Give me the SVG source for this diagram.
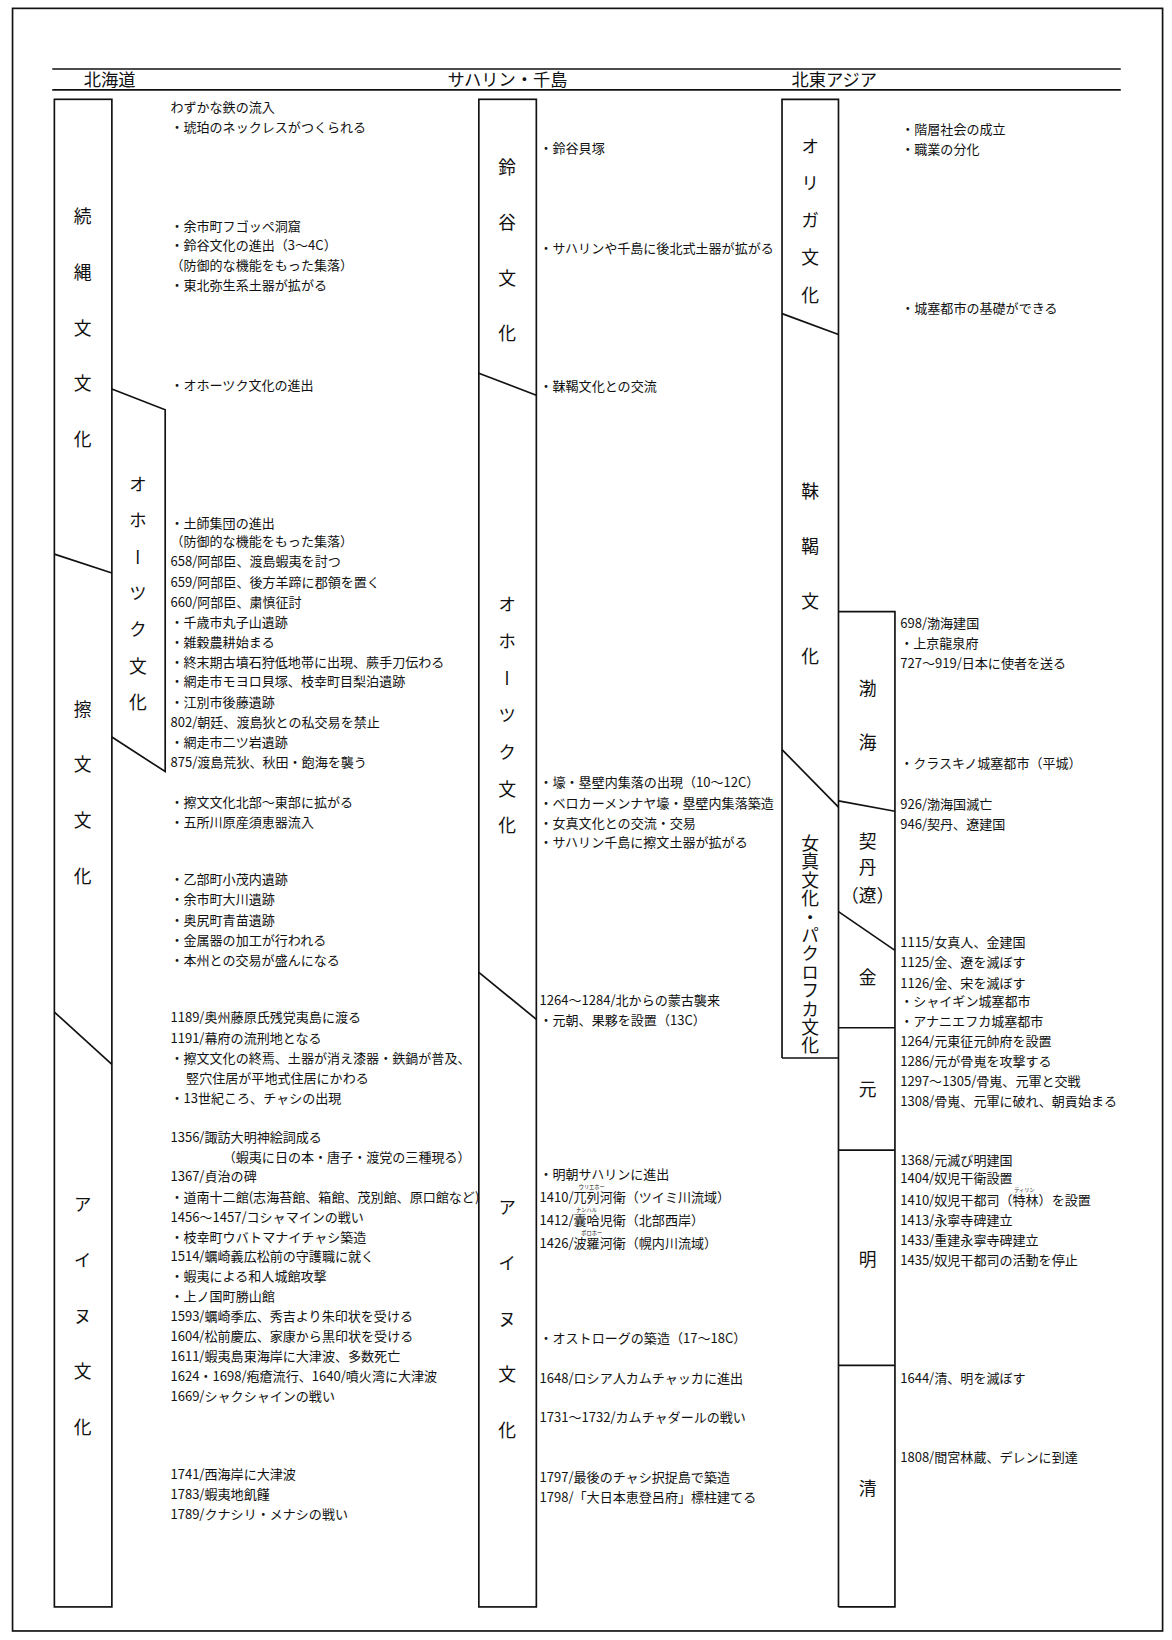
<svg xmlns="http://www.w3.org/2000/svg" width="1172" height="1640" viewBox="0 0 1172 1640">
<style>
.t{font-family:"Noto Sans CJK JP","Noto Sans CJK SC",sans-serif;font-size:12.5px;fill:#111}
.v{font-family:"Noto Sans CJK JP","Noto Sans CJK SC",sans-serif;font-size:17px;fill:#111;writing-mode:vertical-rl}
.c{font-family:"Noto Sans CJK JP","Noto Sans CJK SC",sans-serif;font-size:17px;fill:#111;text-anchor:middle}
.h{font-family:"Noto Sans CJK JP","Noto Sans CJK SC",sans-serif;font-size:16.5px;fill:#111}
.r{font-family:"Noto Sans CJK JP","Noto Sans CJK SC",sans-serif;font-size:5px;fill:#111}
.ln{stroke:#111;stroke-width:1.6;fill:none}
</style>
<rect x="0" y="0" width="1172" height="1640" fill="#fff"/>
<g transform="scale(1.04549)">
<g id="connectors">
<rect class="ln" x="12" y="8" width="1100" height="1552"/>
<line class="ln" x1="50" y1="66" x2="1072" y2="66"/>
<line class="ln" x1="50" y1="86" x2="1072" y2="86"/>
<!-- column 1 -->
<rect class="ln" x="52" y="95" width="55" height="1442"/>
<line class="ln" x1="52" y1="530" x2="107" y2="548"/>
<line class="ln" x1="52" y1="968" x2="107" y2="1018"/>
<polyline class="ln" points="107,372 158,392 158,738 107,705"/>
<!-- column 2 -->
<rect class="ln" x="458" y="95" width="55" height="1442"/>
<line class="ln" x1="458" y1="357" x2="513" y2="378"/>
<line class="ln" x1="458" y1="930" x2="513" y2="975"/>
<!-- column 3 -->
<polyline class="ln" points="748,1012 748,95 802,95 802,1537"/>
<line class="ln" x1="748" y1="1012" x2="802" y2="1012"/>
<line class="ln" x1="748" y1="300" x2="802" y2="320"/>
<line class="ln" x1="748" y1="717" x2="802" y2="772"/>
<polyline class="ln" points="802,585 856,585 856,1537 802,1537"/>
<line class="ln" x1="802" y1="766" x2="856" y2="776"/>
<line class="ln" x1="802" y1="872" x2="856" y2="909"/>
<line class="ln" x1="802" y1="983" x2="856" y2="983"/>
<line class="ln" x1="802" y1="1100" x2="856" y2="1100"/>
<line class="ln" x1="802" y1="1306" x2="856" y2="1306"/>
</g>
<g id="header">
<text class="h" x="80" y="82">北海道</text>
<text class="h" x="428" y="82">サハリン・千島</text>
<text class="h" x="757" y="82">北東アジア</text>
</g>
<g id="band-zokujomon"><text class="v" x="79" y="198.5" style="letter-spacing:36.3px">続縄文文化</text></g>
<g id="band-okhotsk-hokkaido"><text class="v" x="132" y="454.5" style="letter-spacing:17.8px">オホーツク文化</text></g>
<g id="band-satsumon"><text class="v" x="79" y="669.5" style="letter-spacing:36.3px">擦文文化</text></g>
<g id="band-ainu-hokkaido"><text class="v" x="79" y="1143.5" style="letter-spacing:36.3px">アイヌ文化</text></g>
<g id="band-susuya"><text class="v" x="485" y="151.5" style="letter-spacing:36px">鈴谷文化</text></g>
<g id="band-okhotsk-sakhalin"><text class="v" x="485" y="569.5" style="letter-spacing:18.3px">オホーツク文化</text></g>
<g id="band-ainu-sakhalin"><text class="v" x="485" y="1146.5" style="letter-spacing:36.3px">アイヌ文化</text></g>
<g id="band-olga"><text class="v" x="775" y="131.5" style="letter-spacing:18.5px">オリガ文化</text></g>
<g id="band-mohe"><text class="v" x="775" y="461.5" style="letter-spacing:35.7px">靺鞨文化</text></g>
<g id="band-jurchen"><text class="v" x="775" y="798" style="letter-spacing:0.6px">女真文化・パクロフカ文化</text></g>
<g id="band-bohai"><text class="v" x="830" y="649.5" style="letter-spacing:35px">渤海</text></g>
<g id="band-khitan"><text class="v" x="830" y="796.5" style="letter-spacing:8px">契丹</text><text class="c" x="830" y="863">（遼）</text></g>
<g id="band-jin"><text class="c" x="830" y="941">金</text></g>
<g id="band-yuan"><text class="c" x="830" y="1048">元</text></g>
<g id="band-ming"><text class="c" x="830" y="1211">明</text></g>
<g id="band-qing"><text class="c" x="830" y="1430">清</text></g>

<g id="events-hokkaido">
<text class="t" x="163" y="107.6">わずかな鉄の流入</text>
<text class="t" x="163" y="126.6">・琥珀のネックレスがつくられる</text>
<text class="t" x="163" y="220.6">・余市町フゴッペ洞窟</text>
<text class="t" x="163" y="239.6">・鈴谷文化の進出（3〜4C）</text>
<text class="t" x="163" y="258.6">（防御的な機能をもった集落）</text>
<text class="t" x="163" y="277.6">・東北弥生系土器が拡がる</text>
<text class="t" x="163" y="372.6">・オホーツク文化の進出</text>
<text class="t" x="163" y="504.6">・土師集団の進出</text>
<text class="t" x="163" y="522.6">（防御的な機能をもった集落）</text>
<text class="t" x="163" y="541.6">658/阿部臣、渡島蝦夷を討つ</text>
<text class="t" x="163" y="561.6">659/阿部臣、後方羊蹄に郡領を置く</text>
<text class="t" x="163" y="580.6">660/阿部臣、粛慎征討</text>
<text class="t" x="163" y="599.6">・千歳市丸子山遺跡</text>
<text class="t" x="163" y="618.6">・雑穀農耕始まる</text>
<text class="t" x="163" y="637.6">・終末期古墳石狩低地帯に出現、蕨手刀伝わる</text>
<text class="t" x="163" y="656.6">・網走市モヨロ貝塚、枝幸町目梨泊遺跡</text>
<text class="t" x="163" y="676.6">・江別市後藤遺跡</text>
<text class="t" x="163" y="695.6">802/朝廷、渡島狄との私交易を禁止</text>
<text class="t" x="163" y="714.6">・網走市二ツ岩遺跡</text>
<text class="t" x="163" y="733.6">875/渡島荒狄、秋田・飽海を襲う</text>
<text class="t" x="163" y="771.6">・擦文文化北部〜東部に拡がる</text>
<text class="t" x="163" y="790.6">・五所川原産須恵器流入</text>
<text class="t" x="163" y="845.6">・乙部町小茂内遺跡</text>
<text class="t" x="163" y="864.6">・余市町大川遺跡</text>
<text class="t" x="163" y="884.6">・奥尻町青苗遺跡</text>
<text class="t" x="163" y="903.6">・金属器の加工が行われる</text>
<text class="t" x="163" y="922.6">・本州との交易が盛んになる</text>
<text class="t" x="163" y="977.6">1189/奥州藤原氏残党夷島に渡る</text>
<text class="t" x="163" y="997.6">1191/幕府の流刑地となる</text>
<text class="t" x="163" y="1016.6">・擦文文化の終焉、土器が消え漆器・鉄鍋が普及、</text>
<text class="t" x="178" y="1035.6">竪穴住居が平地式住居にかわる</text>
<text class="t" x="163" y="1054.6">・13世紀ころ、チャシの出現</text>
<text class="t" x="163" y="1092.6">1356/諏訪大明神絵詞成る</text>
<text class="t" x="213" y="1111.6">（蝦夷に日の本・唐子・渡党の三種現る）</text>
<text class="t" x="163" y="1129.6">1367/貞治の碑</text>
<text class="t" x="163" y="1149.6">・道南十二館(志海苔館、箱館、茂別館、原口館など)</text>
<text class="t" x="163" y="1168.6">1456〜1457/コシャマインの戦い</text>
<text class="t" x="163" y="1187.6">・枝幸町ウバトマナイチャシ築造</text>
<text class="t" x="163" y="1206.6">1514/蠣崎義広松前の守護職に就く</text>
<text class="t" x="163" y="1225.6">・蝦夷による和人城館攻撃</text>
<text class="t" x="163" y="1244.6">・上ノ国町勝山館</text>
<text class="t" x="163" y="1263.6">1593/蠣崎季広、秀吉より朱印状を受ける</text>
<text class="t" x="163" y="1282.6">1604/松前慶広、家康から黒印状を受ける</text>
<text class="t" x="163" y="1301.6">1611/蝦夷島東海岸に大津波、多数死亡</text>
<text class="t" x="163" y="1320.6">1624・1698/疱瘡流行、1640/噴火湾に大津波</text>
<text class="t" x="163" y="1339.6">1669/シャクシャインの戦い</text>
<text class="t" x="163" y="1414.6">1741/西海岸に大津波</text>
<text class="t" x="163" y="1433.6">1783/蝦夷地飢饉</text>
<text class="t" x="163" y="1452.6">1789/クナシリ・メナシの戦い</text>
</g>

<g id="events-sakhalin">
<text class="t" x="516" y="146.6">・鈴谷貝塚</text>
<text class="t" x="516" y="241.6">・サハリンや千島に後北式土器が拡がる</text>
<text class="t" x="516" y="373.6">・靺鞨文化との交流</text>
<text class="t" x="516" y="752.6">・壕・塁壁内集落の出現（10〜12C）</text>
<text class="t" x="516" y="772.6">・ベロカーメンナヤ壕・塁壁内集落築造</text>
<text class="t" x="516" y="791.6">・女真文化との交流・交易</text>
<text class="t" x="516" y="810.6">・サハリン千島に擦文土器が拡がる</text>
<text class="t" x="516" y="961.6">1264〜1284/北からの蒙古襲来</text>
<text class="t" x="516" y="980.6">・元朝、果夥を設置（13C）</text>
<text class="t" x="516" y="1127.6">・明朝サハリンに進出</text>
<text class="r" x="553.5" y="1136.8">ウリエホー</text>
<text class="t" x="516" y="1149.6">1410/兀列河衛（ツイミ川流域）</text>
<text class="r" x="551" y="1158.8">ナンハル</text>
<text class="t" x="516" y="1171.6">1412/囊哈児衛（北部西岸）</text>
<text class="r" x="556" y="1180.8">ポロホー</text>
<text class="t" x="516" y="1193.6">1426/波羅河衛（幌内川流域）</text>
<text class="t" x="516" y="1284.6">・オストローグの築造（17〜18C）</text>
<text class="t" x="516" y="1322.6">1648/ロシア人カムチャッカに進出</text>
<text class="t" x="516" y="1360.6">1731〜1732/カムチャダールの戦い</text>
<text class="t" x="516" y="1417.6">1797/最後のチャシ択捉島で築造</text>
<text class="t" x="516" y="1436.6">1798/「大日本恵登呂府」標柱建てる</text>
</g>

<g id="events-asia">
<text class="t" x="862" y="128.6">・階層社会の成立</text>
<text class="t" x="862" y="147.6">・職業の分化</text>
<text class="t" x="862" y="299.6">・城塞都市の基礎ができる</text>
<text class="t" x="861" y="600.6">698/渤海建国</text>
<text class="t" x="861" y="619.6">・上京龍泉府</text>
<text class="t" x="861" y="638.6">727〜919/日本に使者を送る</text>
<text class="t" x="861" y="734.6">・クラスキノ城塞都市（平城）</text>
<text class="t" x="861" y="773.6">926/渤海国滅亡</text>
<text class="t" x="861" y="792.6">946/契丹、遼建国</text>
<text class="t" x="861" y="905.6">1115/女真人、金建国</text>
<text class="t" x="861" y="924.6">1125/金、遼を滅ぼす</text>
<text class="t" x="861" y="944.6">1126/金、宋を滅ぼす</text>
<text class="t" x="861" y="962.6">・シャイギン城塞都市</text>
<text class="t" x="861" y="981.6">・アナニエフカ城塞都市</text>
<text class="t" x="861" y="1000.6">1264/元東征元帥府を設置</text>
<text class="t" x="861" y="1019.6">1286/元が骨嵬を攻撃する</text>
<text class="t" x="861" y="1038.6">1297〜1305/骨嵬、元軍と交戦</text>
<text class="t" x="861" y="1057.6">1308/骨嵬、元軍に破れ、朝貢始まる</text>
<text class="t" x="861" y="1114.6">1368/元滅び明建国</text>
<text class="t" x="861" y="1131.6">1404/奴児干衛設置</text>
<text class="r" x="970" y="1139.8">ティリン</text>
<text class="t" x="861" y="1152.6">1410/奴児干都司（特林）を設置</text>
<text class="t" x="861" y="1171.6">1413/永寧寺碑建立</text>
<text class="t" x="861" y="1190.6">1433/重建永寧寺碑建立</text>
<text class="t" x="861" y="1209.6">1435/奴児干都司の活動を停止</text>
<text class="t" x="861" y="1322.6">1644/清、明を滅ぼす</text>
<text class="t" x="861" y="1398.6">1808/間宮林蔵、デレンに到達</text>
</g>
</g>
</svg>
